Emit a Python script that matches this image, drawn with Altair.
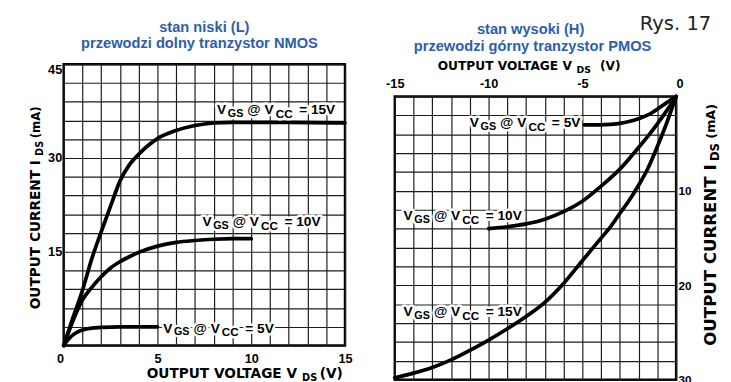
import altair as alt
import pandas as pd

# ---------------- data ----------------
# NMOS, low state: V_DS (V) vs I_DS (mA)
n15_v = [0, 0.5, 1, 1.5, 2, 2.5, 3, 3.5, 4, 4.5, 5, 6, 7, 8, 9, 10, 12, 15]
n15_i = [0, 4.5, 8.8, 13.9, 18.2, 22.3, 26.3, 28.9, 30.6, 32.0, 33.1, 34.4, 35.2, 35.6, 35.7, 35.7, 35.7, 35.6]
n10_v = [0, 0.5, 1, 1.5, 2, 2.5, 3, 3.5, 4, 5, 6, 7, 8, 9, 10]
n10_i = [0, 4.0, 7.3, 9.3, 11.0, 12.4, 13.4, 14.2, 14.9, 15.9, 16.5, 16.8, 17.0, 17.1, 17.1]
n5_v = [0, 0.25, 0.5, 0.75, 1, 1.5, 2, 3, 4, 5]
n5_i = [0, 1.0, 1.7, 2.2, 2.5, 2.8, 2.9, 3.0, 3.0, 3.0]

# PMOS, high state
p15_v = [-15, -14, -13, -12, -11, -10, -9, -8, -7, -6, -5, -4, -3.5, -3, -2.5, -2, -1.5, -1, -0.5, 0]
p15_i = [29.8, 29.3, 28.7, 27.9, 26.9, 25.8, 24.6, 23.3, 21.8, 19.8, 17.4, 15.0, 13.8, 12.4, 11.0, 9.4, 7.6, 5.3, 2.8, 0]
p10_v = [-10, -9, -8, -7, -6, -5, -4, -3, -2, -1.5, -1, -0.5, 0]
p10_i = [14.0, 13.8, 13.5, 13.0, 12.2, 11.1, 9.5, 7.7, 5.4, 4.2, 2.9, 1.5, 0]
p5_v = [-4.9, -4, -3.5, -3, -2.5, -2, -1.5, -1, -0.5, 0]
p5_i = [3.0, 3.0, 2.95, 2.85, 2.65, 2.35, 1.95, 1.35, 0.65, 0]

# curve label anchors (data units) and values
n_lab_v = [8.18, 7.4, 5.31]
n_lab_i = [37.7, 19.8, 2.7]
n_lab_t = ["= 15V", "= 10V", "= 5V"]
p_lab_v = [-11.0, -14.53, -14.53]
p_lab_i = [2.8, 12.7, 22.85]
p_lab_t = ["= 5V", "= 10V", "= 15V"]

# axis-title anchors (data units)
n_ytitle = ([-1.46], [5.8])
n_xtitle = ([4.43], [-4.53])
p_xtitle = ([-12.71], [-3.2])
p_ytitle = ([1.85], [26.4])

# panel titles
n_title = ["stan niski (L)", "przewodzi dolny tranzystor NMOS"]
p_title = ["stan wysoki  (H)", "przewodzi górny tranzystor PMOS"]
fig_label = "Rys. 17"

# tick values
n_xticks = list(range(0, 16))
n_yticks = list(range(0, 46, 3))
p_xticks = list(range(-15, 1))
p_yticks = list(range(0, 31, 2))

TITLE_BLUE = "#2c5eae"
LAB_FONT = "Liberation Sans, Arial, sans-serif"
AX_FONT = "DejaVu Sans, sans-serif"


def curves_df(series):
    rows = []
    for name, vs, iss in series:
        for v, i in zip(vs, iss):
            rows.append({"v": v, "i": i, "s": name})
    return pd.DataFrame(rows)


def piece_layers(df, pieces, font, angle=0, halo=False):
    layers = []
    for p in pieces:
        props = dict(align="left", baseline="middle", dx=p["dx"], dy=p.get("dy", 0),
                     fontSize=p["size"], font=font, fontWeight="bold")
        if angle:
            props["angle"] = angle
        if halo:
            props.update(stroke="white", strokeWidth=5, fill="white", strokeJoin="round")
        else:
            props.update(fill="black")
        text = alt.Text("t:N") if p.get("field") else alt.value(p["text"])
        layers.append(alt.Chart(df).mark_text(**props).encode(x="v:Q", y="i:Q", text=text))
    return layers


def curve_label_pieces():
    return [
        {"text": "V", "dx": 0, "size": 14},
        {"text": "GS", "dx": 11, "dy": 4, "size": 11},
        {"text": "@ V", "dx": 31, "size": 14},
        {"text": "CC", "dx": 60, "dy": 4, "size": 12},
        {"field": True, "dx": 84, "size": 14},
    ]


def labels(vs, iss, ts):
    df = pd.DataFrame({"v": vs, "i": iss, "t": ts})
    pcs = curve_label_pieces()
    return piece_layers(df, pcs, LAB_FONT, halo=True) + piece_layers(df, pcs, LAB_FONT)


def title_text(anchor, pieces, angle=0):
    df = pd.DataFrame({"v": anchor[0], "i": anchor[1], "t": [""]})
    return piece_layers(df, pieces, AX_FONT, angle=angle)


def free_text(txt, x, y, size, color, font, weight="bold", align="center", baseline="alphabetic"):
    return alt.Chart(pd.DataFrame({"t": [txt]})).mark_text(
        align=align, baseline=baseline, fontSize=size, font=font, fontWeight=weight, fill=color
    ).encode(x=alt.value(x), y=alt.value(y), text="t:N")


def spacer():
    return alt.Chart(pd.DataFrame({"a": [0]})).mark_point(size=1, opacity=0).encode(
        x=alt.value(0), y=alt.value(0)
    ).properties(width=1, height=1, view=alt.ViewBackground(strokeOpacity=0))


line_props = dict(color="black", strokeWidth=3.8, interpolate="monotone", strokeCap="round")

# ---------------- left panel (NMOS) ----------------
n_df = curves_df([("15", n15_v, n15_i), ("10", n10_v, n10_i), ("5", n5_v, n5_i)])
n_curves = alt.Chart(n_df).mark_line(**line_props).encode(
    x=alt.X("v:Q", scale=alt.Scale(domain=[0, 15], nice=False),
            axis=alt.Axis(values=n_xticks, tickCount=100, title=None, grid=True, orient="bottom",
                          format="d",
                          labelExpr="datum.value % 5 == 0 ? datum.label : ''",
                          labelAlign={"condition": {"test": "datum.value == 0", "value": "right"}, "value": "center"},
                          labelPadding=7, labelOverlap=False)),
    y=alt.Y("i:Q", scale=alt.Scale(domain=[0, 45], nice=False),
            axis=alt.Axis(values=n_yticks, tickCount=100, title=None, grid=True, format="d",
                          labelExpr="datum.value % 15 == 0 && datum.value > 0 ? datum.label : ''",
                          labelFlush=True, labelPadding=2, labelOverlap=False)),
    detail="s:N",
)

n_layers = [n_curves] + labels(n_lab_v, n_lab_i, n_lab_t)
n_layers += title_text(n_ytitle, [
    {"text": "OUTPUT CURRENT I", "dx": 0, "size": 14},
    {"text": "DS", "dx": 157, "dy": 4, "size": 10},
    {"text": "(mA)", "dx": 175, "size": 12},
], angle=270)
n_layers += title_text(n_xtitle, [
    {"text": "OUTPUT VOLTAGE V", "dx": 0, "size": 14},
    {"text": "DS", "dx": 159, "dy": 4, "size": 10},
    {"text": "(V)", "dx": 177, "size": 14},
])
n_layers += [
    free_text(".", 0, -51, 10, "white", LAB_FONT, baseline="top", align="left"),
    free_text(n_title[0], 144, -33, 15, TITLE_BLUE, LAB_FONT),
    free_text(n_title[1], 139, -17, 15, TITLE_BLUE, LAB_FONT),
]

left = alt.layer(*n_layers).properties(width=288, height=288)

# ---------------- right panel (PMOS) ----------------
p_df = curves_df([("15", p15_v, p15_i), ("10", p10_v, p10_i), ("5", p5_v, p5_i)])
p_curves = alt.Chart(p_df).mark_line(**line_props).encode(
    x=alt.X("v:Q", scale=alt.Scale(domain=[-15, 0], nice=False),
            axis=alt.Axis(values=p_xticks, tickCount=100, title=None, grid=True, orient="top",
                          labelExpr="datum.value % 5 == 0 ? (datum.value < 0 ? '-' + toString(abs(datum.value)) : '0') : ''",
                          labelAlign={"condition": {"test": "datum.value == 0", "value": "left"}, "value": "center"},
                          labelPadding=6, labelOverlap=False)),
    y=alt.Y("i:Q", scale=alt.Scale(domain=[0, 30], nice=False, reverse=True),
            axis=alt.Axis(values=p_yticks, tickCount=100, title=None, grid=True, orient="right",
                          format="d",
                          labelExpr="datum.value % 10 == 0 && datum.value > 0 ? datum.label : ''",
                          labelPadding=2, labelFontSize=12, labelOverlap=False)),
    detail="s:N",
)

p_layers = [p_curves] + labels(p_lab_v, p_lab_i, p_lab_t)
p_layers += title_text(p_xtitle, [
    {"text": "OUTPUT VOLTAGE V", "dx": 0, "size": 12.5},
    {"text": "DS", "dx": 142, "dy": 3.5, "size": 9.5},
    {"text": "(V)", "dx": 166, "size": 12.5},
])
p_layers += title_text(p_ytitle, [
    {"text": "OUTPUT CURRENT I", "dx": 0, "size": 17},
    {"text": "DS", "dx": 189, "dy": 4.5, "size": 12},
    {"text": "(mA)", "dx": 212, "size": 13},
], angle=270)
p_layers += [
    free_text(fig_label, 324, -84, 20, "#222222", "DejaVu Sans", weight="normal", align="right", baseline="top"),
    free_text(p_title[0], 139, -64, 15, TITLE_BLUE, LAB_FONT),
    free_text(p_title[1], 141, -47, 15, TITLE_BLUE, LAB_FONT),
]

right = alt.layer(*p_layers).properties(width=288, height=290)

# a tiny spacer row above each panel makes both panels line up by their top edges
chart = alt.hconcat(
    alt.vconcat(spacer(), left, spacing=-6),
    alt.vconcat(spacer(), right, spacing=-6),
    spacing=31,
).properties(
    padding={"left": 20, "top": 0, "right": 0, "bottom": 0},
).configure_axis(
    gridColor="#1c1c1c", gridWidth=1.2, gridOpacity=1, domain=False, ticks=False, tickSize=0,
    labelFont=LAB_FONT, labelFontSize=13, labelFontWeight="bold", labelColor="black",
).configure_view(stroke="black", strokeWidth=2.5)

chart.save("out.html", embed_options={"renderer": "svg", "actions": False})
